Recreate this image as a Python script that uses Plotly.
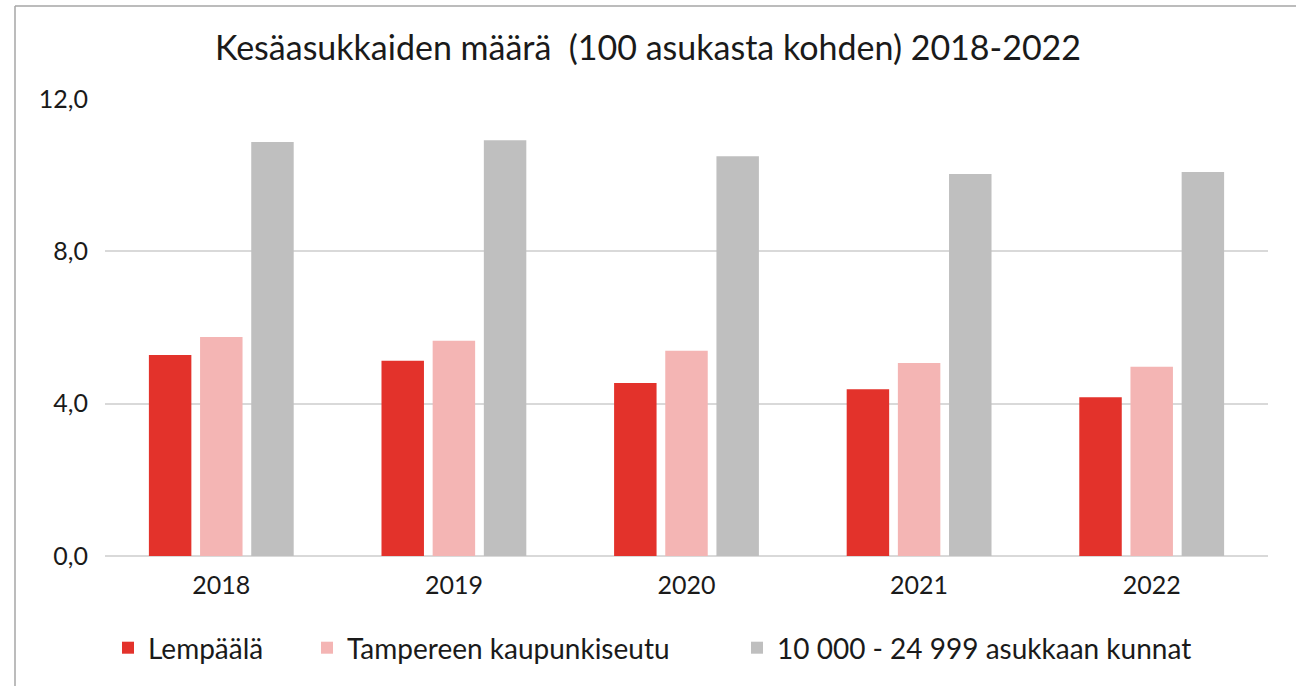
import plotly.graph_objects as go

years = ["2018", "2019", "2020", "2021", "2022"]
lempaala = [5.28, 5.13, 4.54, 4.38, 4.17]
tampere_seutu = [5.75, 5.65, 5.39, 5.07, 4.97]
kunnat_10k_25k = [10.87, 10.92, 10.50, 10.03, 10.08]
series_names = ["Lempäälä", "Tampereen kaupunkiseutu", "10 000 - 24 999 asukkaan kunnat"]
y_ticks = [0, 4, 8, 12]
y_tick_labels = ["0,0", "4,0", "8,0", "12,0"]

colors = ["#E3322B", "#F4B5B4", "#BFBFBF"]
legend_ids = ["legend", "legend2", "legend3"]
legend_px = [123, 322, 752]   # left edge of each legend square in the picture

fig = go.Figure()
for name, vals, col, lg in zip(series_names, [lempaala, tampere_seutu, kunnat_10k_25k],
                               colors, legend_ids):
    fig.add_trace(go.Bar(x=years, y=vals, name=name, marker_color=col,
                         marker_line_width=0, legend=lg))

legend_style = dict(orientation="h", xanchor="left", y=(556 - 648) / 457,
                    yanchor="middle", font=dict(size=28), itemwidth=30,
                    bgcolor="rgba(0,0,0,0)")
fig.update_layout(
    width=1296, height=686,
    paper_bgcolor="white", plot_bgcolor="white",
    margin=dict(l=105, r=28, t=99, b=130),
    barmode="group", bargap=0.34, bargroupgap=0.17,
    font=dict(family="Lato", color="#1A1A1A", size=25),
    title=dict(text="Kesäasukkaiden määrä  (100 asukasta kohden) 2018-2022",
               x=0.5, xanchor="center", y=1 - 48 / 686, yanchor="middle",
               font=dict(size=34, color="#1A1A1A")),
    showlegend=True,
)
for lg, px in zip(legend_ids, legend_px):
    fig.update_layout({lg: dict(legend_style, x=(px - 15 - 105) / 1163)})

fig.update_xaxes(showgrid=False, showline=False, ticks="", ticklabelstandoff=12,
                 tickfont=dict(size=25))
fig.update_yaxes(range=[0, 12], tickvals=y_ticks, ticktext=y_tick_labels,
                 showgrid=True, gridcolor="#D9D9D9", gridwidth=1.5,
                 zeroline=True, zerolinecolor="#D9D9D9", zerolinewidth=1.5,
                 showline=False, ticks="", ticklabelstandoff=16,
                 tickfont=dict(size=25))

# outer chart frame: only its left and top edges fall inside the picture
fx0 = (15 - 105) / 1163
fy1 = (556 - 6) / 457
frame = dict(color="#A6A6A6", width=1.5)
fig.add_shape(type="line", xref="paper", yref="paper", x0=fx0, x1=fx0,
              y0=-0.5, y1=fy1, line=frame, layer="below")
fig.add_shape(type="line", xref="paper", yref="paper", x0=fx0, x1=1.2,
              y0=fy1, y1=fy1, line=frame, layer="below")

fig.write_html("out.html", config={"displayModeBar": False},
               post_script="document.body.style.margin='0';"
                           "document.body.style.overflow='hidden';")
